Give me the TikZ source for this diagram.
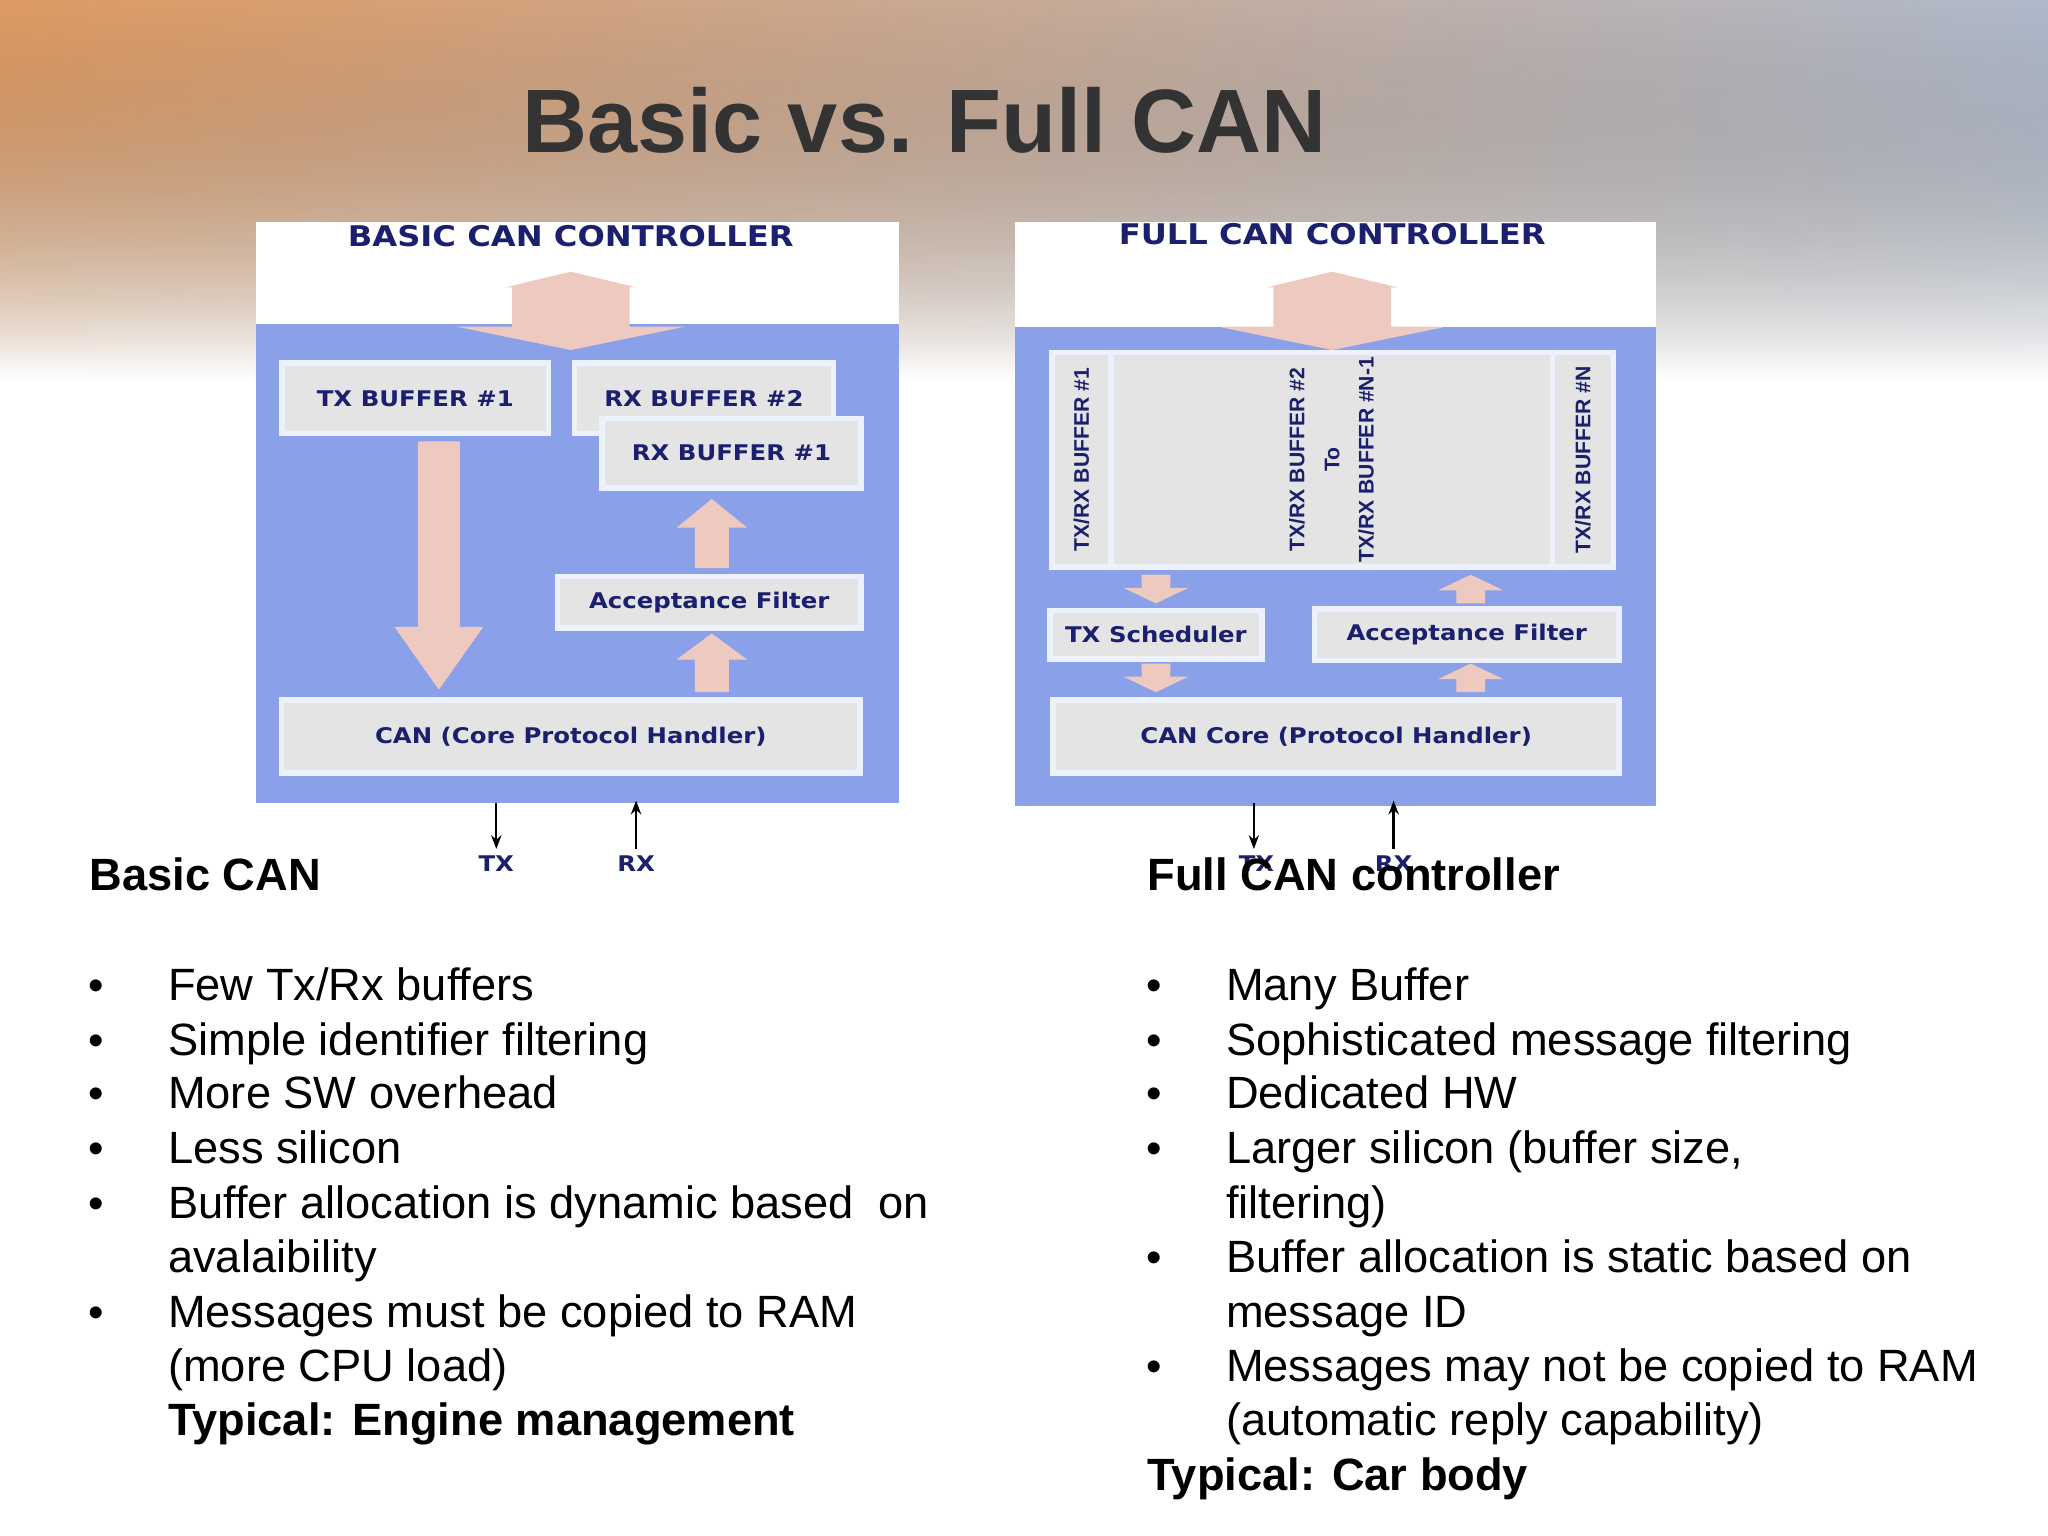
\documentclass[tikz,border=0pt]{standalone}
\usepackage{fontspec}
\setmainfont{Liberation Sans}
\newfontfamily\dfont[FakeStretch=1.13]{DejaVu Sans}
\usetikzlibrary{fadings,arrows.meta}
\definecolor{bluebg}{HTML}{8AA0E8}
\definecolor{boxg}{HTML}{E4E4E4}
\definecolor{arrp}{HTML}{EDC9BF}
\definecolor{navy}{HTML}{1A1F6E}
\definecolor{ttl}{HTML}{333333}
\tikzset{
 arrfill/.style={fill=arrp},
 gbox/.style={fill=boxg,draw=white!85!bluebg,line width=1.2pt},
 btxt/.style={font=\dfont\fontsize{4.7}{5}\selectfont\bfseries,text=navy},
 rtxt/.style={font=\fontsize{4.6}{5}\selectfont\bfseries,text=navy,rotate=90},
 ctitle/.style={font=\dfont\fontsize{6.2}{7}\selectfont\bfseries,text=navy},
 li/.style={anchor=base west,font=\fontsize{9.85}{11}\selectfont,inner sep=0pt},
 lb/.style={li,font=\fontsize{9.85}{11}\selectfont\bfseries},
 bul/.style={anchor=base,font=\fontsize{9.6}{11}\selectfont,inner sep=0pt},
 sm/.style={-{Stealth[length=3pt]},line width=0.5pt}
}
\newcommand\varrow[6]{\fill[arrfill] (#1-#4,#2) -- (#1-#4,#3-#6) -- (#1-#5,#3-#6) -- (#1,#3) -- (#1+#5,#3-#6) -- (#1+#4,#3-#6) -- (#1+#4,#2) -- cycle;}
\newcommand\dblarrow[1]{\fill[arrfill] (#1,208) -- (#1+50,220) -- (#1+45,220) -- (#1+45,250) -- (#1+88,250) -- (#1,268) -- (#1-88,250) -- (#1-45,250) -- (#1-45,220) -- (#1-50,220) -- cycle;}
\begin{document}
\begin{tikzpicture}[x=0.01cm,y=-0.01cm]
\useasboundingbox (0,0) rectangle (1568,1176);
\fill[white] (0,0) rectangle (1568,1176);
\fill[left color=orange!90!red,middle color=yellow!50!green!40!white,right color={rgb,1:red,0.62;green,0.70;blue,0.84},path fading=south,fill opacity=0.75] (0,0) rectangle (1568,290);
\fill[white,path fading=south,fill opacity=0.35] (0,0) rectangle (1568,290);
\node[font=\fontsize{19.6}{24}\selectfont\bfseries,text=ttl] (title) at (708,92) {Basic vs. Full CAN};
% Left diagram
\fill[white] (196,170) rectangle (688,248);
\fill[bluebg] (196,248) rectangle (688,615);
\node[ctitle] (lt) at (437,181) {BASIC CAN CONTROLLER};
\dblarrow{437}
\node[gbox,btxt,minimum width=2.04cm,minimum height=0.54cm] (tx1) at (318,305) {TX BUFFER \#1};
\node[gbox,btxt,minimum width=1.98cm,minimum height=0.54cm] (rx2) at (539,305) {RX BUFFER \#2};
\node[gbox,btxt,minimum width=1.98cm,minimum height=0.53cm] (rx1) at (560,347) {RX BUFFER \#1};
\node[gbox,btxt,minimum width=2.32cm,minimum height=0.38cm] (af) at (543,461) {Acceptance Filter};
\node[gbox,btxt,minimum width=4.43cm,minimum height=0.56cm] (can) at (437,564) {CAN (Core Protocol Handler)};
\varrow{336}{338}{528}{16}{34}{48}
\varrow{545}{435}{382}{13}{27}{-22}
\varrow{545}{530}{485}{13}{27}{-20}
\coordinate (ltx) at (380,650);
\coordinate (lrx) at (487,613);
\draw[sm] (380,615) -- (ltx);
\draw[sm] (487,650) -- (lrx);
\node[btxt] (ltxl) at (380,661) {TX};
\node[btxt] (lrxl) at (487,661) {RX};
% Right diagram
\fill[white] (777,170) rectangle (1268,250);
\fill[bluebg] (777,250) rectangle (1268,617);
\node[ctitle] (rt) at (1020,179) {FULL CAN CONTROLLER};
\dblarrow{1020}
\node[gbox,minimum width=0.45cm,minimum height=1.64cm] (b1) at (828,352) {};
\node[gbox,minimum width=3.38cm,minimum height=1.64cm] (bm) at (1020,352) {};
\node[gbox,minimum width=0.47cm,minimum height=1.64cm] (bn) at (1212,352) {};
\node[rtxt] at (b1) {TX/RX BUFFER \#1};
\node[rtxt] at (993,352) {TX/RX BUFFER \#2};
\node[rtxt] at (1020,352) {To};
\node[rtxt] at (1046,352) {TX/RX BUFFER \#N-1};
\node[rtxt] at (bn) {TX/RX BUFFER \#N};
\node[gbox,btxt,minimum width=1.58cm,minimum height=0.37cm] (sch) at (885,486) {TX Scheduler};
\node[gbox,btxt,minimum width=2.33cm,minimum height=0.37cm] (raf) at (1123,486) {Acceptance Filter};
\node[gbox,btxt,minimum width=4.33cm,minimum height=0.56cm] (rcan) at (1023,564) {CAN Core (Protocol Handler)};
\varrow{885}{440}{462}{11}{25}{12}
\varrow{885}{508}{530}{11}{25}{12}
\varrow{1126}{462}{440}{11}{25}{-12}
\varrow{1126}{530}{508}{11}{25}{-12}
\coordinate (rtx) at (960,650);
\coordinate (rrx) at (1067,613);
\draw[sm] (960,615) -- (rtx);
\draw[sm] (1067,650) -- (rrx);
\node[btxt] (rtxl) at (962,661) {TX};
\node[btxt] (rrxl) at (1067,661) {RX};
% Left text
\node[lb] (lh) at (68,682) {Basic CAN};
\foreach \y in {766,808,849,891,933,1016} \node[bul] at (74,\y) {•};
\node[li] (l1) at (128,766) {Few Tx/Rx buffers};
\node[li] (l2) at (128,808) {Simple identifier filtering};
\node[li] (l3) at (128,849) {More SW overhead};
\node[li] (l4) at (128,891) {Less silicon};
\node[li] (l5) at (128,933) {Buffer allocation is dynamic based~~on};
\node[li] (l6) at (128,974) {avalaibility};
\node[li] (l7) at (128,1016) {Messages must be copied to RAM};
\node[li] (l8) at (128,1058) {(more CPU load)};
\node[lb] (l9) at (128,1099) {Typical: Engine management};
% Right text
\node[lb] (rh) at (878,682) {Full CAN controller};
\foreach \y in {766,808,849,891,974,1058} \node[bul] at (884,\y) {•};
\node[li] (r1) at (938,766) {Many Buffer};
\node[li] (r2) at (938,808) {Sophisticated message filtering};
\node[li] (r3) at (938,849) {Dedicated HW};
\node[li] (r4) at (938,891) {Larger silicon (buffer size,};
\node[li] (r5) at (938,933) {filtering)};
\node[li] (r6) at (938,974) {Buffer allocation is static based on};
\node[li] (r7) at (938,1016) {message ID};
\node[li] (r8) at (938,1058) {Messages may not be copied to RAM};
\node[li] (r9) at (938,1099) {(automatic reply capability)};
\node[lb] (r10) at (878,1141) {Typical: Car body};
\end{tikzpicture}
\end{document}
